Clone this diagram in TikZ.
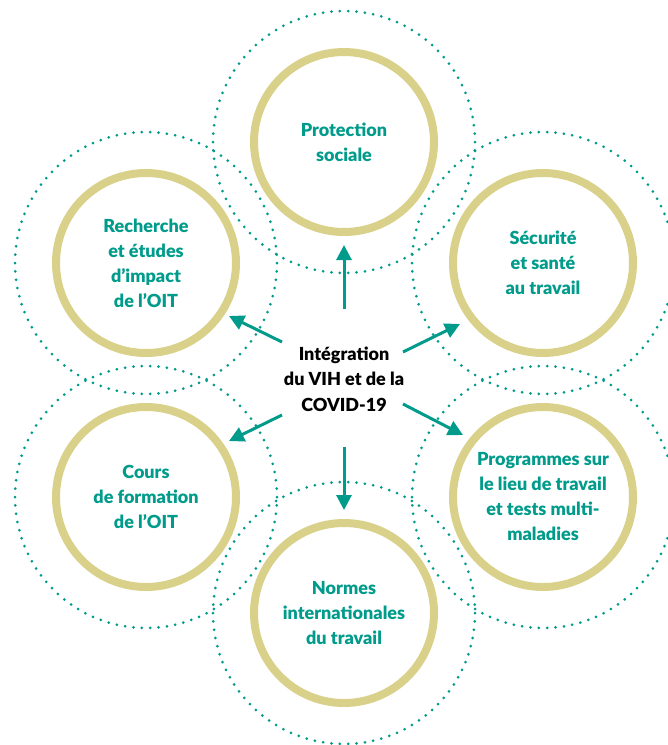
\documentclass[tikz,border=0pt]{standalone}
\usepackage{fontspec}
\setmainfont{Lato}[BoldFont={Lato Black}]
\usepackage{xcolor}
\usepackage{tikz}
\usetikzlibrary{arrows.meta}

\definecolor{oitteal}{RGB}{0,155,138}
\definecolor{oitgold}{RGB}{217,209,138}

\begin{document}
\begin{tikzpicture}[x=1pt,y=-1pt,
		ring/.style={circle,draw=oitgold,line width=8pt,minimum size=180pt,inner sep=0pt,
			text=oitteal,align=center,font=\bfseries\fontsize{18}{25}\selectfont},
		halo/.style={draw=oitteal,line width=3pt,line cap=round,dash pattern=on 0pt off 8.4pt},
		fleche/.style={draw=oitteal,line width=3pt,-{Triangle[length=15pt,width=15pt]}}]
			\useasboundingbox (0,0) rectangle (668,745);
			
			\node[ring] (PS) at (344,142) {Protection\\sociale};
			\node[ring] (SST) at (543,263) {Sécurité\\et santé\\au travail};
			\node[ring] (PLT) at (543,497) {Programmes sur\\le lieu de travail\\et tests multi-\\maladies};
			\node[ring] (NIT) at (344,613) {Normes\\internationales\\du travail};
			\node[ring] (CF) at (146,497) {Cours\\de formation\\de l’OIT};
			\node[ring] (RE) at (146,263) {Recherche\\et études\\d’impact\\de l’OIT};
			
			\draw[halo] (PS) circle (131pt);
			\draw[halo] (SST) circle (131pt);
			\draw[halo] (PLT) circle (131pt);
			\draw[halo] (NIT) circle (131pt);
			\draw[halo] (CF) circle (131pt);
			\draw[halo] (RE) circle (131pt);
			
			\node[align=center,font=\bfseries\fontsize{18}{25.5}\selectfont] (VIH) at (344,379)
				{Intégration\\du VIH et de la\\COVID-19};
			
			\coordinate (n0) at (344,309); \coordinate (n1) at (344,245);
			\coordinate (s0) at (344,447); \coordinate (s1) at (344,510);
			\coordinate (no0) at (282,342); \coordinate (no1) at (229,316);
			\coordinate (ne0) at (403,352); \coordinate (ne1) at (460,324);
			\coordinate (so0) at (282,415); \coordinate (so1) at (229,441);
			\coordinate (se0) at (403,404); \coordinate (se1) at (463,435);
			
			\draw[fleche] (n0)--(n1);
			\draw[fleche] (s0)--(s1);
			\draw[fleche] (no0)--(no1);
			\draw[fleche] (ne0)--(ne1);
			\draw[fleche] (so0)--(so1);
			\draw[fleche] (se0)--(se1);
		\end{tikzpicture}
\end{document}
